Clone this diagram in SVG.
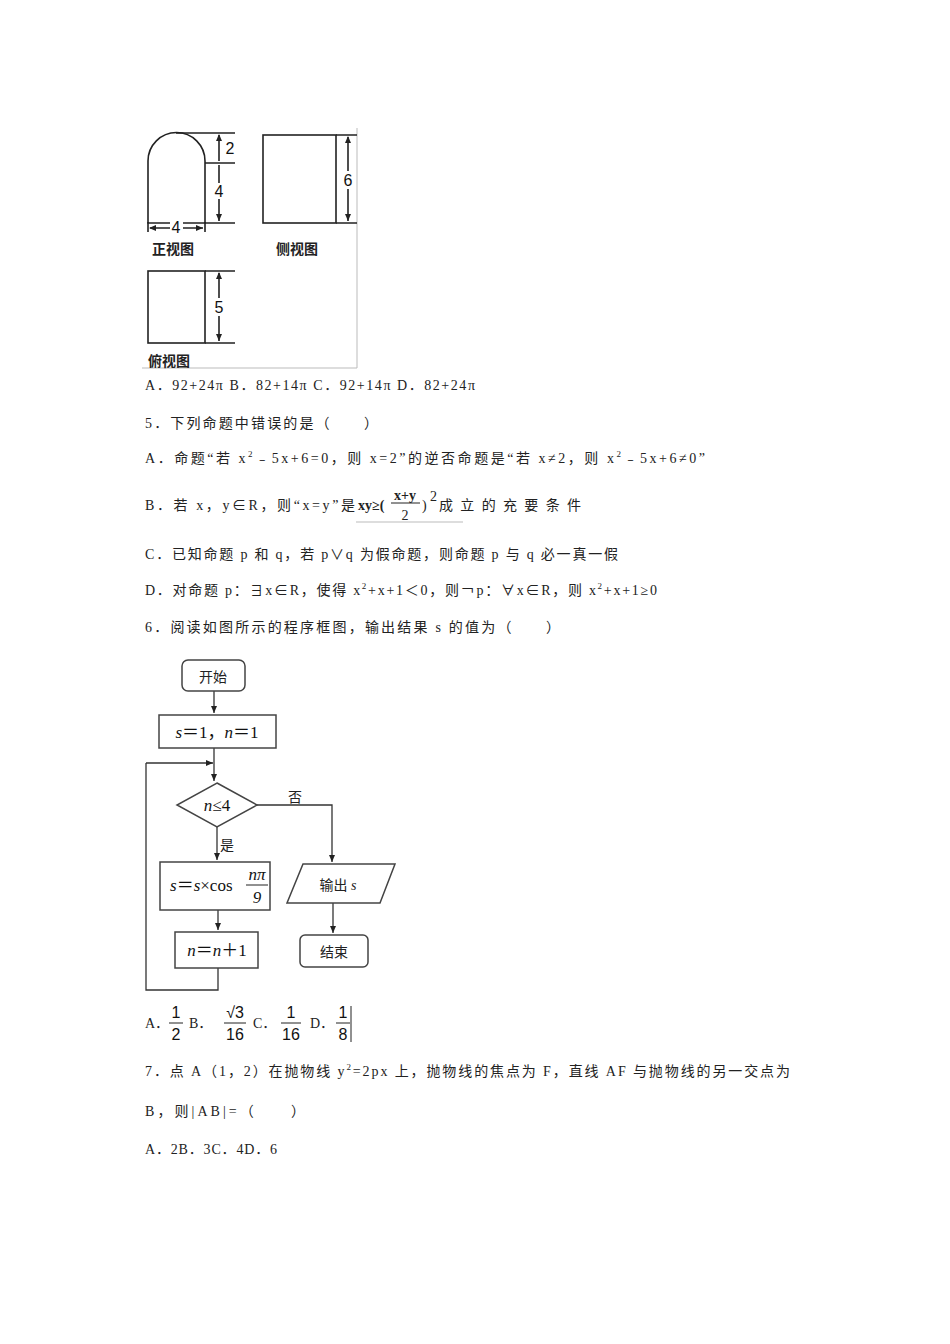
<svg xmlns="http://www.w3.org/2000/svg" width="950" height="1344" viewBox="0 0 950 1344">
<style>
.t{font-family:"Liberation Serif","Noto Sans CJK SC",serif;font-size:14px;fill:#222}
.c{font-family:"Noto Sans CJK SC",sans-serif;font-size:14px;fill:#222}
.m{font-family:"Liberation Serif","Noto Sans CJK SC",serif;font-style:italic;font-size:17px;fill:#111}
.n{font-family:"Liberation Sans",sans-serif;font-size:16px;fill:#111}
.s{fill:none;stroke:#222;stroke-width:1.6}
.f{fill:none;stroke:#333;stroke-width:1.3}
.b{fill:#fff;stroke:#444;stroke-width:1.5}
</style>
<defs>
<marker id="a" markerWidth="8" markerHeight="8" refX="7" refY="4" orient="auto" markerUnits="userSpaceOnUse"><path d="M0,1 L7,4 L0,7 Z" fill="#222"/></marker>
<marker id="as" markerWidth="8" markerHeight="8" refX="1" refY="4" orient="auto" markerUnits="userSpaceOnUse"><path d="M7,1 L0,4 L7,7 Z" fill="#222"/></marker>
</defs>
<rect width="950" height="1344" fill="#fff"/>
<g id="threeview">
<path d="M357,128 V368 H142" fill="none" stroke="#bbb" stroke-width="1"/>
<path class="s" d="M148,223 V161 A28.5,28.5 0 0 1 205,161 V223 Z"/>
<path class="s" d="M176,133 H235 M205,163 H235 M205,223 H235"/>
<path class="s" d="M219,135 V161 M219,165 V221" marker-start="url(#as)" marker-end="url(#a)"/>
<path class="s" d="M150,228 H203" marker-start="url(#as)" marker-end="url(#a)"/>
<path class="s" d="M148,222 V232 M205,222 V232"/>
<rect x="170" y="221" width="13" height="13" fill="#fff"/>
<text class="n" x="176" y="233" text-anchor="middle">4</text>
<rect x="223" y="140" width="14" height="16" fill="#fff"/>
<text class="n" x="230" y="154" text-anchor="middle">2</text>
<rect x="213" y="183" width="13" height="16" fill="#fff"/>
<text class="n" x="219" y="197" text-anchor="middle">4</text>
<text class="c" x="152" y="254" font-weight="bold">正视图</text>
<rect class="s" x="263" y="135" width="73" height="88"/>
<path class="s" d="M336,135 H357 M336,223 H357"/>
<path class="s" d="M348,137 V221" marker-start="url(#as)" marker-end="url(#a)"/>
<rect x="341" y="171" width="14" height="18" fill="#fff"/>
<text class="n" x="348" y="186" text-anchor="middle">6</text>
<text class="c" x="276" y="254" font-weight="bold">侧视图</text>
<rect class="s" x="148" y="271" width="57" height="72"/>
<path class="s" d="M205,271 H235 M205,343 H235"/>
<path class="s" d="M219,273 V341" marker-start="url(#as)" marker-end="url(#a)"/>
<rect x="212" y="298" width="14" height="18" fill="#fff"/>
<text class="n" x="219" y="313" text-anchor="middle">5</text>
<text class="c" x="148" y="366" font-weight="bold">俯视图</text>
</g>
<g id="text">
<text class="t" x="145" y="390" textLength="330" lengthAdjust="spacing">A．92+24π B．82+14π C．92+14π D．82+24π</text>
<text class="t" x="145" y="428" textLength="233" lengthAdjust="spacing">5．下列命题中错误的是（　　）</text>
<text class="t" x="145" y="463" textLength="560" lengthAdjust="spacing">A．命题“若 x<tspan font-size="9" dy="-6">2</tspan><tspan dy="6">﹣5x+6=0，则 x=2”的逆否命题是“若 x≠2，则 x</tspan><tspan font-size="9" dy="-6">2</tspan><tspan dy="6">﹣5x+6≠0”</tspan></text>
<text class="t" x="145" y="510" textLength="210" lengthAdjust="spacing">B．若 x，y∈R，则“x=y”是</text>
<text class="t" x="358" y="510" font-weight="bold">xy≥(</text>
<text class="t" x="405" y="500" font-weight="bold" text-anchor="middle">x+y</text>
<line x1="391" y1="503" x2="420" y2="503" stroke="#222" stroke-width="1"/>
<text class="t" x="405" y="520" text-anchor="middle">2</text>
<text class="t" x="422" y="510">)</text>
<text class="t" x="430" y="501">2</text>
<text class="t" x="439" y="510" textLength="142" lengthAdjust="spacing">成立的充要条件</text>
<line x1="356" y1="522" x2="463" y2="522" stroke="#bbb" stroke-width="1"/>
<text class="t" x="145" y="559" textLength="473" lengthAdjust="spacing">C．已知命题 p 和 q，若 p∨q 为假命题，则命题 p 与 q 必一真一假</text>
<text class="t" x="145" y="595" textLength="512" lengthAdjust="spacing">D．对命题 p：∃x∈R，使得 x<tspan font-size="9" dy="-6">2</tspan><tspan dy="6">+x+1＜0，则￢p：∀x∈R，则 x</tspan><tspan font-size="9" dy="-6">2</tspan><tspan dy="6">+x+1≥0</tspan></text>
<text class="t" x="145" y="632" textLength="415" lengthAdjust="spacing">6．阅读如图所示的程序框图，输出结果 s 的值为（　　）</text>
<text class="t" x="145" y="1028">A．</text>
<text class="n" x="176" y="1018" text-anchor="middle">1</text><line x1="169" y1="1023" x2="183" y2="1023" stroke="#222"/><text class="n" x="176" y="1040" text-anchor="middle">2</text>
<text class="t" x="189" y="1028">B．</text>
<text class="n" x="235" y="1018" text-anchor="middle">√3</text><line x1="224" y1="1023" x2="246" y2="1023" stroke="#222"/><text class="n" x="235" y="1040" text-anchor="middle">16</text>
<text class="t" x="253" y="1028">C．</text>
<text class="n" x="291" y="1018" text-anchor="middle">1</text><line x1="281" y1="1023" x2="301" y2="1023" stroke="#222"/><text class="n" x="291" y="1040" text-anchor="middle">16</text>
<text class="t" x="310" y="1028">D．</text>
<text class="n" x="343" y="1018" text-anchor="middle">1</text><line x1="336" y1="1023" x2="350" y2="1023" stroke="#222"/><text class="n" x="343" y="1040" text-anchor="middle">8</text>
<line x1="351" y1="1006" x2="351" y2="1042" stroke="#222"/>
<text class="t" x="145" y="1076" textLength="645" lengthAdjust="spacing">7．点 A（1，2）在抛物线 y<tspan font-size="9" dy="-6">2</tspan><tspan dy="6">=2px 上，抛物线的焦点为 F，直线 AF 与抛物线的另一交点为</tspan></text>
<text class="t" x="145" y="1116" textLength="160" lengthAdjust="spacing">B，则|AB|=（　　）</text>
<text class="t" x="145" y="1154" textLength="132" lengthAdjust="spacing">A．2B．3C．4D．6</text>
</g>
<g id="connectors">
<path class="f" d="M214,691 V713" marker-end="url(#a)"/>
<path class="f" d="M214,748 V781" marker-end="url(#a)"/>
<path class="f" d="M146,763 H213" marker-end="url(#a)"/>
<path class="f" d="M217,827 V860" marker-end="url(#a)"/>
<path class="f" d="M257,805 H332 V862" marker-end="url(#a)"/>
<path class="f" d="M218,910 V930" marker-end="url(#a)"/>
<path class="f" d="M218,968 V990 H146 V763"/>
<path class="f" d="M333,903 V933" marker-end="url(#a)"/>
</g>
<g id="start"><rect class="b" x="182" y="660" width="63" height="31" rx="6"/><text class="c" x="213" y="682" text-anchor="middle" font-size="16">开始</text></g>
<g id="init"><rect class="b" x="159" y="715" width="117" height="33"/><text class="m" x="217" y="738" text-anchor="middle"><tspan>s</tspan><tspan font-style="normal">＝1，</tspan><tspan>n</tspan><tspan font-style="normal">＝1</tspan></text></g>
<g id="cond"><path class="b" d="M217,783 L257,805 L217,827 L177,805 Z"/><text class="m" x="217" y="811" text-anchor="middle" font-size="15">n<tspan font-style="normal">≤4</tspan></text></g>
<text class="c" x="288" y="802" font-size="16">否</text>
<text class="c" x="220" y="850" font-size="16">是</text>
<g id="update"><rect class="b" x="160" y="862" width="110" height="48"/><text class="m" x="170" y="891"><tspan>s</tspan><tspan font-style="normal">＝</tspan><tspan>s</tspan><tspan font-style="normal">×cos</tspan></text><text class="m" x="257" y="880" text-anchor="middle" font-size="15">nπ</text><line x1="246" y1="885" x2="268" y2="885" stroke="#222"/><text class="m" x="257" y="903" text-anchor="middle" font-style="normal" font-size="15">9</text></g>
<g id="inc"><rect class="b" x="175" y="932" width="83" height="36"/><text class="m" x="217" y="956" text-anchor="middle">n<tspan font-style="normal">＝</tspan>n<tspan font-style="normal">＋1</tspan></text></g>
<g id="output"><path class="b" d="M303,864 H395 L380,903 H287 Z"/><text class="c" x="338" y="890" text-anchor="middle" font-size="16">输出<tspan font-family="Liberation Serif" font-style="italic"> s</tspan></text></g>
<g id="end"><rect class="b" x="300" y="935" width="68" height="32" rx="5"/><text class="c" x="334" y="957" text-anchor="middle" font-size="16">结束</text></g>
</svg>
